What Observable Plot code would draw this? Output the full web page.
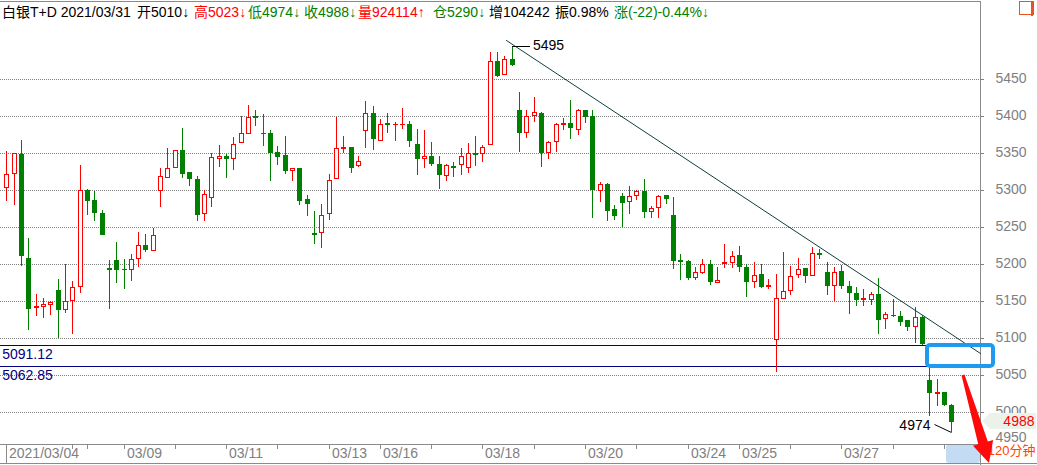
<!DOCTYPE html>
<html><head><meta charset="utf-8">
<script src="https://cdn.jsdelivr.net/npm/d3@7"></script>
<script src="https://cdn.jsdelivr.net/npm/@observablehq/plot@0.6"></script>
<style>
body{margin:0;background:#fff;}
#wrap{position:relative;width:1037px;height:465px;overflow:hidden;font-family:"Liberation Sans",Arial,"Noto Sans CJK SC",sans-serif;}
#head{position:absolute;left:0;top:0;width:1037px;height:22px;}
#head span{position:absolute;top:1px;font-size:14px;line-height:22px;white-space:nowrap;}
#chart{position:absolute;left:0;top:22px;}
</style></head><body>
<div id="wrap"><div id="head"></div><div id="chart"></div></div>
<script>
// ---- data (120-minute bars, 白银T+D) ----
const opens = [5304,5323,5349,5209,5142,5144,5147,5165,5140,5152,5171,5300,5287,5269,5195,5206,5194,5193,5209,5226,5220,5301,5318,5331,5354,5325,5315,5269,5291,5344,5346,5343,5365,5378,5400,
5377,5378,5352,5348,5327,5330,5288,5242,5243,5269,5316,5357,5358,5334,5381,5405,5368,5391,5389,5389,5389,5363,5343,5347,5335,5321,5333,5335,5332,5350,5351,
5362,5475,5457,5478,5408,5379,5402,5404,5352,5366,5390,5391,5383,5408,5400,5301,5309,5275,5292,5285,5293,5299,5272,5277,5294,5267,5206,5205,5183,5190,
5201,5176,5202,5203,5212,5197,5177,5187,5171,5099,5155,5165,5187,5195,5186,5215,5190,5172,5191,5171,5161,5153,5153,5160,5127,5132,5130,5125,5116,5129,5044,5026,5027,5010];
const highs = [5353,5350,5368,5235,5160,5154,5151,5180,5200,5177,5334,5302,5299,5273,5206,5230,5207,5214,5244,5241,5249,5330,5357,5354,5384,5325,5319,5300,5350,5361,5349,5372,5400,5415,5409,
5403,5381,5360,5373,5330,5330,5294,5272,5281,5322,5399,5373,5359,5347,5421,5414,5396,5405,5392,5411,5393,5383,5381,5365,5346,5336,5338,5357,5364,5373,5361,
5487,5487,5481,5495,5433,5408,5426,5406,5367,5391,5398,5422,5410,5408,5408,5311,5310,5280,5296,5306,5301,5315,5279,5293,5294,5291,5214,5206,5196,5207,
5206,5196,5227,5218,5225,5201,5203,5200,5180,5187,5217,5198,5209,5195,5224,5221,5203,5197,5199,5177,5169,5167,5162,5181,5136,5153,5137,5125,5142,5131,5063,5045,5028,5011];
const lows = [5286,5280,5198,5111,5130,5127,5132,5100,5134,5106,5161,5267,5259,5240,5140,5175,5167,5177,5196,5217,5218,5278,5317,5331,5316,5306,5258,5259,5278,5331,5317,5328,5364,5377,5387,
5360,5312,5334,5322,5312,5280,5265,5227,5222,5260,5315,5351,5324,5332,5357,5355,5367,5378,5367,5383,5358,5320,5330,5333,5302,5312,5318,5321,5324,5333,5338,
5361,5453,5456,5468,5352,5371,5392,5331,5342,5352,5381,5369,5375,5391,5263,5284,5258,5260,5250,5268,5287,5263,5262,5263,5282,5193,5179,5179,5179,5187,
5172,5175,5195,5195,5189,5156,5168,5168,5167,5054,5155,5159,5182,5175,5186,5207,5159,5151,5167,5133,5144,5144,5145,5106,5113,5129,5116,5110,5094,5091,4995,5008,5008,4974];
const closes = [5322,5350,5212,5141,5143,5146,5149,5140,5150,5170,5300,5287,5271,5241,5193,5194,5193,5207,5226,5221,5239,5319,5330,5354,5324,5316,5268,5295,5345,5346,5343,5363,5377,5399,5399,
5378,5352,5347,5327,5330,5287,5283,5241,5267,5314,5357,5358,5332,5340,5405,5370,5389,5390,5390,5390,5368,5343,5347,5337,5322,5334,5332,5346,5350,5349,5359,
5475,5456,5478,5471,5379,5401,5406,5352,5365,5389,5391,5385,5408,5401,5302,5308,5273,5267,5284,5292,5299,5272,5276,5292,5289,5206,5205,5183,5190,5201,
5177,5179,5203,5211,5198,5178,5185,5171,5172,5154,5164,5184,5194,5186,5215,5214,5172,5190,5172,5163,5153,5154,5160,5126,5133,5131,5124,5116,5129,5093,5027,5027,5011,4988];

const tickIdx = [0,9,11,16,23,30,37,44,51,58,65,72,79,86,93,100,107,114,121,128];
const dateLabelIdx = [0,16,30,44,51,65,79,93,100,114];
const dateLabels = ["2021/03/04","03/09","03/11","03/13","03/16","03/18","03/20","03/24","03/25","03/27"];
const gridValues = [5000,5050,5100,5150,5200,5250,5300,5350,5400,5450];
const gapLevels = [5091.12, 5062.85];
const trendIdx = [68.2, 132.9];
const trendVal = [5503, 5080.5];
const highMark = {i: 69, v: 5495};
const lowMark = {i: 129, v: 4974};
const gapBoxIdx = [125.7, 134.7];
const arrowIdx = [130.6, 134.2];
const arrowVal = [5050.4, 4932.2];
const periodLabel = "120分钟";

const titleParts = [
  ["白银T+D 2021/03/31", "#000", 2], ["开5010↓", "#000", 137], ["高5023↓", "#ff0000", 194],
  ["低4974↓", "#008000", 248], ["收4988↓", "#008000", 304], ["量924114↑", "#ff0000", 358],
  ["仓5290↓", "#008000", 433], ["增104242", "#000", 489], ["振0.98%", "#000", 555],
  ["涨(-22)-0.44%↓", "#008000", 614]
];

// ---- header (HTML) ----
const head = document.getElementById("head");
for (const [t, c, x] of titleParts) {
  const s = document.createElement("span");
  s.textContent = t; s.style.color = c; s.style.left = x + "px";
  head.appendChild(s);
}
const addDiv = (css) => { const d = document.createElement("div"); d.style.cssText = "position:absolute;" + css; head.appendChild(d); };
addDiv("left:0;top:1px;width:981px;height:1px;background:#8a8a8a;");
addDiv("left:980px;top:1px;width:1px;height:21px;background:#8a8a8a;");
addDiv("left:1019px;top:1px;width:13px;height:12px;border:1.5px solid #e8531f;");
addDiv("left:1031px;top:1px;width:1.5px;height:15px;background:#e8531f;");

// ---- detect the pixel offset Plot applies to rects (so bodies land on whole pixels) ----
function markOffset(mark, label) {
  const p = Plot.plot({width: 40, height: 40, margin: 0, x: {domain: [0, 1], axis: null}, y: {domain: [0, 1], axis: null}, marks: [mark]});
  const g = p.querySelector(`g[aria-label="${label}"]`);
  const t = g && g.getAttribute("transform");
  const m = t && /translate\(\s*([-\d.]+)/.exec(t);
  return m ? +m[1] : 0;
}
const rectOff = markOffset(Plot.rect([0], {x1: 0, x2: 1, y1: 0, y2: 1}), "rect");
const fix = -rectOff;

// ---- chart ----
const candles = d3.range(opens.length).map(i => ({i, o: opens[i], h: highs[i], l: lows[i], c: closes[i]}));
const RED = "#ff0000", GREEN = "#008000", GRID = "#808080";
const col = d => d.c >= d.o ? RED : GREEN;
const hollow = candles.filter(d => d.c - d.o > 1);

const W = 1037, H = 443, mR = 57, mB = 21;
const xDomain = [-0.86, 132.91];
const yDomain = [4957.2, 5527.4];
const kx = (W - mR) / (xDomain[1] - xDomain[0]);
const ky = (H - mB) / (yDomain[1] - yDomain[0]);
const hw = 2 / kx;
const last = candles[candles.length - 1];
const svgNS = "http://www.w3.org/2000/svg";
const el = (tag, attrs) => { const e = document.createElementNS(svgNS, tag); for (const k in attrs) e.setAttribute(k, attrs[k]); return e; };

function chrome(index, scales, values, dims) {
  const g = el("g", {});
  const xR = dims.width - dims.marginRight, yB = dims.height - dims.marginBottom;
  g.appendChild(el("rect", {x: xR - 34, y: yB + 0.5, width: 34, height: 18.5, rx: 3, fill: "#c4dbf4"}));
  g.appendChild(el("line", {x1: xR + 0.5, x2: xR + 0.5, y1: 0, y2: dims.height, stroke: "#8a8a8a"}));
  g.appendChild(el("line", {x1: 0, x2: dims.width, y1: dims.height - 1.5, y2: dims.height - 1.5, stroke: "#8a8a8a"}));
  return g;
}
function priceTag(index, scales, values, dims) {
  const c = scales.y(last.c), xR = dims.width - dims.marginRight;
  return el("polygon", {points: [[xR + 2, c], [xR + 10, c - 8], [dims.width - 1, c - 8], [dims.width - 1, c + 8], [xR + 10, c + 8]].join(" "), fill: "#ebf2ea"});
}
function bigArrow(index, scales) {
  const T = [scales.x(arrowIdx[0]), scales.y(arrowVal[0])], P = [scales.x(arrowIdx[1]), scales.y(arrowVal[1])];
  const dx = P[0] - T[0], dy = P[1] - T[1], L = Math.hypot(dx, dy);
  const u = [dx / L, dy / L], n = [u[1], -u[0]];
  const hl = 21, hwid = 10.5, bw = 5, tw = 1.5;
  const B = [P[0] - u[0] * hl, P[1] - u[1] * hl];
  const pt = (p, s) => [p[0] + n[0] * s, p[1] + n[1] * s];
  const pts = [pt(T, tw), pt(B, bw), pt(B, hwid), P, pt(B, -hwid), pt(B, -bw), pt(T, -tw)];
  return el("polygon", {points: pts.map(p => p.join(",")).join(" "), fill: "#ff0a0a"});
}

const chart = Plot.plot({
  width: W, height: H,
  marginLeft: 0, marginRight: mR, marginTop: 0, marginBottom: mB,
  x: {domain: xDomain, round: true, axis: null},
  y: {domain: yDomain, round: true, axis: null},
  style: {fontFamily: '"Liberation Sans", Arial, "Noto Sans CJK SC", sans-serif', fontSize: "14px", background: "white"},
  marks: [
    chrome,
    Plot.ruleY(gridValues, {stroke: GRID, strokeDasharray: "1,1"}),
    Plot.ruleY(gridValues, {x1: xDomain[1], x2: xDomain[1] + 4 / kx, stroke: GRID}),
    Plot.ruleY([yDomain[0]], {stroke: "#8a8a8a"}),
    Plot.ruleX(tickIdx.slice(1), {y1: yDomain[0], y2: yDomain[0] - 5 / ky, stroke: "#8a8a8a"}),
    Plot.ruleX([tickIdx[0]], {y1: yDomain[0], y2: yDomain[0] - 19 / ky, stroke: "#8a8a8a"}),
    Plot.text(dateLabelIdx, {x: d => d, y: yDomain[0], text: (d, i) => dateLabels[i], dx: 2.5, dy: 9, textAnchor: "start", fill: GRID, fontSize: 14}),
    Plot.ruleY(gapLevels, {stroke: "#000080"}),
    Plot.text(gapLevels, {x: xDomain[0], y: d => d, text: d => d.toFixed(2), dx: 1.7, dy: 9.5, textAnchor: "start", fill: "#000080", fontSize: 14}),
    // wicks
    Plot.ruleX(candles, {x: "i", y1: "l", y2: "h", stroke: col}),
    // body (solid, whole pixels: 5px wide, includes both edge rows)
    Plot.rect(candles, {x1: d => d.i - hw, x2: d => d.i + hw, y1: "o", y2: "c", fill: col, dx: fix, dy: fix, insetRight: -1, insetBottom: -1}),
    // hollow interior of rising bodies
    Plot.rect(hollow, {x1: d => d.i - hw, x2: d => d.i + hw, y1: "o", y2: "c", fill: "white", dx: fix, dy: fix, insetLeft: 1, insetTop: 1}),
    Plot.line(trendIdx.map((x, j) => ({x, y: trendVal[j]})), {x: "x", y: "y", stroke: "#0d3f3f", strokeWidth: 1}),
    Plot.rect([{x1: gapBoxIdx[0], x2: gapBoxIdx[1], y1: gapLevels[1], y2: gapLevels[0]}], {x1: "x1", x2: "x2", y1: "y1", y2: "y2", fill: "none", stroke: "#1e9bf0", strokeWidth: 4, rx: 3}),
    Plot.ruleY([highMark], {x1: d => d.i, x2: d => d.i + 18 / kx, y: "v", stroke: "#000"}),
    Plot.text([highMark], {x: "i", y: "v", text: d => String(d.v), dx: 20.5, dy: -0.5, textAnchor: "start", fill: "#000", fontSize: 14}),
    Plot.link([lowMark], {x1: d => d.i - 17.3 / kx, y1: d => d.v + 7.5 / ky, x2: "i", y2: "v", stroke: "#000"}),
    Plot.text([lowMark], {x: "i", y: "v", text: d => String(d.v), dx: -21, dy: -6.5, textAnchor: "end", fill: "#000", fontSize: 14}),
    Plot.text(gridValues, {y: d => d, frameAnchor: "right", text: d => String(d), dx: 15, dy: -1, textAnchor: "start", fill: GRID, fontSize: 14}),
    Plot.text([4950], {y: d => d, frameAnchor: "right", text: d => String(d), dx: 15, dy: -12.3, textAnchor: "start", fill: GRID, fontSize: 14}),
    priceTag,
    Plot.text([last], {y: "c", frameAnchor: "right", text: d => String(d.c), dx: 54, textAnchor: "end", fill: RED, fontSize: 14}),
    Plot.text([periodLabel], {frameAnchor: "bottom-right", text: d => d, dx: 55, dy: 10.5, textAnchor: "end", fill: "#ff4500", fontSize: 13}),
    bigArrow
  ]
});
document.getElementById("chart").appendChild(chart);
</script>
</body></html>
